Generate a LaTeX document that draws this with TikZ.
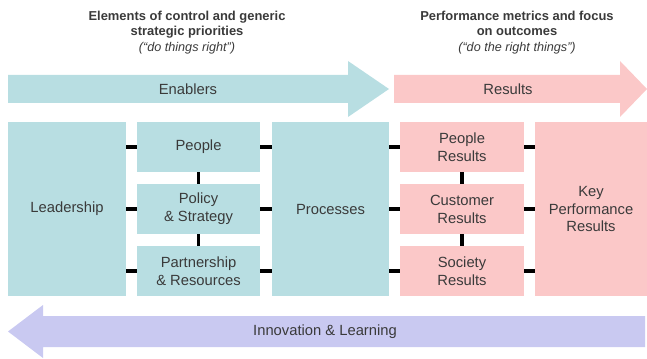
\documentclass[tikz,border=0pt]{standalone}
\usepackage{fontspec}
\setmainfont{Liberation Sans}
\usepackage{tikz}

\definecolor{enabler}{HTML}{B8DEE2}
\definecolor{result}{HTML}{FBC8C8}
\definecolor{learn}{HTML}{C9C9F1}
\definecolor{txt}{HTML}{3A3A3A}

\tikzset{
  box/.style={fill=enabler, text=txt, align=center, inner sep=0pt,
    font=\fontsize{10.5}{12.8}\selectfont},
  bigbox/.style={box, minimum height=4.35cm},
  smallbox/.style={box, minimum height=1.25cm},
  rbox/.style={fill=result},
  link/.style={line width=2.4pt, black},
  heading/.style={align=center, text=txt, font=\bfseries\fontsize{9.2}{11}\selectfont},
  label/.style={text=txt, font=\fontsize{10.5}{12.8}\selectfont}
}

\begin{document}
\begin{tikzpicture}

\useasboundingbox (0,0) rectangle (16.175,8.95);

% headings
\node at (4.675,8.14) (ctrl) [heading] {Elements of control and generic\\strategic priorities\\{\mdseries\itshape\fontsize{9}{11}\selectfont (“do things right”)}};
\node at (12.925,8.14) (perf) [heading] {Performance metrics and focus\\on outcomes\\{\mdseries\itshape\fontsize{9}{11}\selectfont (“do the right things”)}};

% enablers arrow
\fill[enabler] (0.2,7.075) -- (8.7,7.075) -- (8.7,7.425) -- (9.725,6.725) -- (8.7,6.025) -- (8.7,6.375) -- (0.2,6.375) -- cycle;
\node at (4.7,6.725) (enablers) [label] {Enablers};
% results arrow
\fill[result] (9.85,7.075) -- (15.5,7.075) -- (15.5,7.425) -- (16.175,6.725) -- (15.5,6.025) -- (15.5,6.375) -- (9.85,6.375) -- cycle;
\node at (12.7,6.725) (results) [label] {Results};

% enabler boxes
\node at (1.675,3.725) (lead) [bigbox, minimum width=2.95cm] {Leadership};
\node at (4.9625,5.275) (people) [smallbox, minimum width=3.075cm] {People};
\node at (4.9625,3.725) (policy) [smallbox, minimum width=3.075cm] {Policy\\\& Strategy};
\node at (4.9625,2.175) (partner) [smallbox, minimum width=3.075cm] {Partnership\\\& Resources};
\node at (8.2625,3.725) (proc) [bigbox, minimum width=2.925cm] {Processes};

% result boxes
\node at (11.55,5.275) (pres) [smallbox, rbox, minimum width=3.1cm] {People\\Results};
\node at (11.55,3.725) (cres) [smallbox, rbox, minimum width=3.1cm] {Customer\\Results};
\node at (11.55,2.175) (sres) [smallbox, rbox, minimum width=3.1cm] {Society\\Results};
\node at (14.775,3.725) (kpr) [bigbox, rbox, minimum width=2.8cm] {Key\\Performance\\Results};

% links on the left
\draw[link] (people.west -| lead.east) -- (people.west);
\draw[link] (policy.west -| lead.east) -- (policy.west);
\draw[link] (partner.west -| lead.east) -- (partner.west);
\draw[link] (people.east) -- (people.east -| proc.west);
\draw[link] (policy.east) -- (policy.east -| proc.west);
\draw[link] (partner.east) -- (partner.east -| proc.west);
\draw[link] (people.south) -- (policy.north);
\draw[link] (policy.south) -- (partner.north);
% links on the right
\draw[link] (pres.west -| proc.east) -- (pres.west);
\draw[link] (cres.west -| proc.east) -- (cres.west);
\draw[link] (sres.west -| proc.east) -- (sres.west);
\draw[link] (pres.east) -- (pres.east -| kpr.west);
\draw[link] (cres.east) -- (cres.east -| kpr.west);
\draw[link] (sres.east) -- (sres.east -| kpr.west);
\draw[link] (pres.south) -- (cres.north);
\draw[link] (cres.south) -- (sres.north);

% learning arrow
\fill[learn] (16.125,1.05) -- (1.075,1.05) -- (1.075,1.325) -- (0.2,0.6625) -- (1.075,0) -- (1.075,0.275) -- (16.125,0.275) -- cycle;
\node at (8.125,0.6625) (learning) [label] {Innovation \& Learning};

\end{tikzpicture}
\end{document}
